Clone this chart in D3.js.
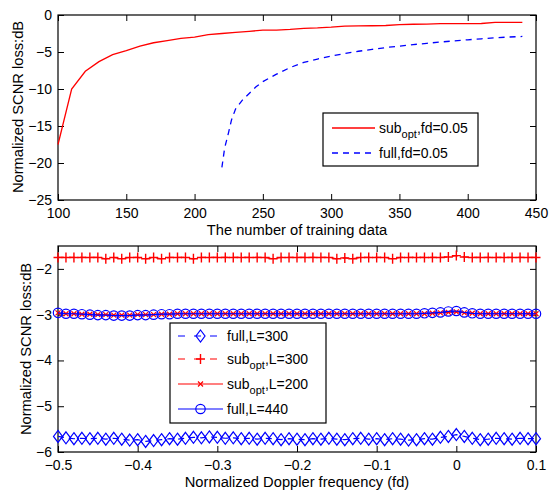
<!DOCTYPE html>
<html lang="en">

<head>
    <meta charset="UTF-8">
    <title>SCNR loss</title>
    <style>
        body {
            margin: 0;
            background: #fff;
        }

        svg {
            font-family: "Liberation Sans", Arial, sans-serif;
        }

        .axis text {
            font-size: 14px;
            fill: #000;
        }

        .axis path,
        .axis line {
            stroke: #000;
        }
    </style>
</head>

<body>
    <svg width="551" height="492"></svg>

    <script src="https://d3js.org/d3.v7.min.js"></script>
    <script>
        // top plot: loss vs number of training data
        const trainN = [100, 110, 120, 130, 140, 150, 160, 170, 180, 190, 200, 210, 220, 230, 240, 250, 260, 270,
            280, 290, 300, 310, 320, 330, 340, 350, 360, 370, 380, 390, 400, 410, 420, 430, 440];
        const subOptFd = [-17.5, -10.0, -7.6, -6.3, -5.35, -4.8, -4.2, -3.75, -3.45, -3.15, -3.0, -2.65, -2.5, -2.35,
            -2.2, -2.05, -2.05, -1.95, -1.8, -1.75, -1.65, -1.5, -1.47, -1.45, -1.42, -1.3, -1.25, -1.22, -1.17, -1.17,
            -1.17, -1.15, -1.0, -1.0, -1.0];
        const fullN = [220, 222, 225, 227, 230, 235, 240, 245, 250, 260, 270, 280, 290, 300, 310, 320, 330, 340, 350,
            360, 370, 380, 390, 400, 410, 420, 430, 440];
        const fullFd = [-20.6, -18.0, -15.8, -14.2, -12.7, -11.5, -10.6, -9.7, -9.0, -8.0, -7.1, -6.4, -5.95, -5.55,
            -5.2, -4.9, -4.65, -4.4, -4.2, -4.0, -3.83, -3.65, -3.5, -3.35, -3.22, -3.07, -2.98, -2.9];
        const topXTicks = [100, 150, 200, 250, 300, 350, 400, 450];
        const topYTicks = [-25, -20, -15, -10, -5, 0];

        // bottom plot: loss vs normalized doppler frequency
        const fd = d3.range(61).map(i => +(-0.5 + i * 0.01).toFixed(2));
        const fullL300 = [-5.66, -5.69, -5.71, -5.70, -5.71, -5.70, -5.72, -5.70, -5.72, -5.74, -5.73, -5.77, -5.75,
            -5.73, -5.71, -5.72, -5.70, -5.68, -5.69, -5.67, -5.68, -5.70, -5.69, -5.71, -5.70, -5.72, -5.70, -5.71,
            -5.73, -5.71, -5.72, -5.73, -5.71, -5.72, -5.70, -5.72, -5.73, -5.71, -5.70, -5.72, -5.71, -5.73, -5.71,
            -5.72, -5.74, -5.73, -5.71, -5.72, -5.68, -5.66, -5.62, -5.66, -5.70, -5.73, -5.72, -5.70, -5.71, -5.72,
            -5.70, -5.71, -5.71];
        const subL300 = [-1.75, -1.75, -1.75, -1.75, -1.75, -1.75, -1.78, -1.75, -1.78, -1.75, -1.75, -1.78, -1.75,
            -1.78, -1.75, -1.75, -1.75, -1.78, -1.75, -1.75, -1.75, -1.75, -1.75, -1.75, -1.75, -1.75, -1.75, -1.78,
            -1.75, -1.75, -1.75, -1.75, -1.75, -1.75, -1.75, -1.78, -1.76, -1.78, -1.75, -1.75, -1.75, -1.75, -1.78,
            -1.75, -1.75, -1.75, -1.75, -1.75, -1.75, -1.74, -1.71, -1.74, -1.75, -1.75, -1.75, -1.75, -1.75, -1.75,
            -1.75, -1.75, -1.75];
        const subL200 = [-2.96, -2.98, -2.98, -2.99, -2.99, -3.00, -3.00, -3.01, -3.01, -3.01, -3.00, -3.00, -3.00,
            -2.99, -2.99, -2.98, -2.98, -2.98, -2.98, -2.98, -2.98, -2.98, -2.98, -2.98, -2.98, -2.98, -2.98, -2.98,
            -2.98, -2.98, -2.98, -2.98, -2.98, -2.98, -2.98, -2.98, -2.98, -2.98, -2.98, -2.98, -2.98, -2.98, -2.98,
            -2.98, -2.98, -2.98, -2.98, -2.97, -2.96, -2.95, -2.94, -2.96, -2.97, -2.98, -2.98, -2.98, -2.98, -2.98,
            -2.98, -2.98, -2.98];
        const fullL440 = [-2.96, -2.98, -2.98, -2.99, -3.00, -3.01, -3.01, -3.02, -3.02, -3.02, -3.01, -3.01, -3.00,
            -2.99, -2.99, -2.98, -2.98, -2.98, -2.98, -2.98, -2.98, -2.98, -2.98, -2.98, -2.98, -2.98, -2.98, -2.98,
            -2.98, -2.98, -2.98, -2.98, -2.98, -2.98, -2.98, -2.98, -2.98, -2.98, -2.98, -2.98, -2.98, -2.98, -2.98,
            -2.98, -2.98, -2.98, -2.97, -2.96, -2.95, -2.93, -2.92, -2.95, -2.97, -2.98, -2.98, -2.98, -2.98, -2.98,
            -2.98, -2.98, -2.98];
        const botXTicks = [-0.5, -0.4, -0.3, -0.2, -0.1, 0, 0.1];
        const botYTicks = [-6, -5, -4, -3, -2];

        const svg = d3.select("svg");
        const tick = 6;
        const labelSize = 14.7;

        // draw a MATLAB-like box with inward ticks on all sides
        function drawFrame(g, x, y, xt, yt, fmtX, fmtY) {
            const [x0, x1] = x.range();
            const [y0, y1] = y.range();
            g.append("g").attr("class", "axis")
                .attr("transform", `translate(0,${y0})`)
                .call(d3.axisBottom(x).tickValues(xt).tickSize(-tick).tickPadding(8).tickFormat(fmtX))
                .call(a => a.select(".domain").remove());
            g.append("g").attr("class", "axis")
                .attr("transform", `translate(0,${y1})`)
                .call(d3.axisTop(x).tickValues(xt).tickSize(-tick).tickFormat(""))
                .call(a => a.select(".domain").remove());
            g.append("g").attr("class", "axis")
                .attr("transform", `translate(${x0},0)`)
                .call(d3.axisLeft(y).tickValues(yt).tickSize(-tick).tickPadding(6).tickFormat(fmtY))
                .call(a => a.select(".domain").remove());
            g.append("g").attr("class", "axis")
                .attr("transform", `translate(${x1},0)`)
                .call(d3.axisRight(y).tickValues(yt).tickSize(-tick).tickFormat(""))
                .call(a => a.select(".domain").remove());
            g.append("rect")
                .attr("x", x0).attr("y", y1)
                .attr("width", x1 - x0).attr("height", y0 - y1)
                .attr("fill", "none").attr("stroke", "#000").attr("stroke-width", 1.2);
        }

        const fmtNum = d => d3.format("")(d).replace("-", "\u2212");

        // ---------- top plot
        const xTop = d3.scaleLinear().domain([100, 450]).range([58, 536]);
        const yTop = d3.scaleLinear().domain([-25, 0]).range([200, 15]);
        const gTop = svg.append("g");
        drawFrame(gTop, xTop, yTop, topXTicks, topYTicks, fmtNum, fmtNum);

        const lineTop = d3.line().x(d => xTop(d[0])).y(d => yTop(d[1]));
        gTop.append("path")
            .datum(d3.zip(trainN, subOptFd))
            .attr("d", lineTop)
            .attr("fill", "none").attr("stroke", "#ff0000").attr("stroke-width", 1.3);
        gTop.append("path")
            .datum(d3.zip(fullN, fullFd))
            .attr("d", lineTop)
            .attr("fill", "none").attr("stroke", "#0000ff").attr("stroke-width", 1.3)
            .attr("stroke-dasharray", "6,5");

        gTop.append("text")
            .attr("x", 297).attr("y", 235)
            .attr("text-anchor", "middle").attr("font-size", labelSize)
            .text("The number of training data");
        gTop.append("text")
            .attr("transform", "translate(23,107) rotate(-90)")
            .attr("text-anchor", "middle").attr("font-size", labelSize)
            .text("Normalized SCNR loss:dB");

        // top legend
        const legTop = gTop.append("g");
        legTop.append("rect")
            .attr("x", 323).attr("y", 113).attr("width", 155).attr("height", 53)
            .attr("fill", "#fff").attr("stroke", "#000").attr("stroke-width", 1.2);
        const topLeg = [
            { color: "#ff0000", dash: null, y: 128, main: "sub", sub: "opt", rest: ",fd=0.05" },
            { color: "#0000ff", dash: "6,5", y: 153, main: "full,fd=0.05", sub: null, rest: "" }
        ];
        topLeg.forEach(e => {
            legTop.append("line")
                .attr("x1", 332).attr("x2", 375).attr("y1", e.y).attr("y2", e.y)
                .attr("stroke", e.color).attr("stroke-width", 1.3)
                .attr("stroke-dasharray", e.dash);
            const t = legTop.append("text").attr("x", 379).attr("y", e.y + 5).attr("font-size", 14);
            t.append("tspan").text(e.main);
            if (e.sub) {
                t.append("tspan").attr("dy", 5).attr("font-size", 11).text(e.sub);
                t.append("tspan").attr("dy", -5).text(e.rest);
            }
        });

        // ---------- bottom plot
        const xBot = d3.scaleLinear().domain([-0.5, 0.1]).range([58, 536]);
        const yBot = d3.scaleLinear().domain([-6, -1.5]).range([452, 246]);
        const gBot = svg.append("g");
        drawFrame(gBot, xBot, yBot, botXTicks, botYTicks, fmtNum, fmtNum);

        const lineBot = d3.line().x(d => xBot(d[0])).y(d => yBot(d[1]));

        const markers = {
            diamond: (g, cx, cy, c) => g.append("path")
                .attr("d", `M${cx},${cy - 6}L${cx + 4.5},${cy}L${cx},${cy + 6}L${cx - 4.5},${cy}Z`)
                .attr("fill", "none").attr("stroke", c).attr("stroke-width", 1.2),
            plus: (g, cx, cy, c) => g.append("path")
                .attr("d", `M${cx - 4.5},${cy}H${cx + 4.5}M${cx},${cy - 5}V${cy + 5}`)
                .attr("stroke", c).attr("stroke-width", 1.4),
            cross: (g, cx, cy, c) => g.append("path")
                .attr("d", `M${cx - 2.5},${cy - 2.5}L${cx + 2.5},${cy + 2.5}M${cx - 2.5},${cy + 2.5}L${cx + 2.5},${cy - 2.5}`)
                .attr("stroke", c).attr("stroke-width", 1.2),
            circle: (g, cx, cy, c) => g.append("circle")
                .attr("cx", cx).attr("cy", cy).attr("r", 4.7)
                .attr("fill", "none").attr("stroke", c).attr("stroke-width", 1.2)
        };

        const botSeries = [
            { vals: fullL300, color: "#0000ff", dash: "6,5", marker: "diamond", label: "full,L=300", sub: null },
            { vals: subL300, color: "#ff0000", dash: "6,5", marker: "plus", label: "sub", sub: "opt", rest: ",L=300" },
            { vals: subL200, color: "#ff0000", dash: null, marker: "cross", label: "sub", sub: "opt", rest: ",L=200" },
            { vals: fullL440, color: "#0000ff", dash: null, marker: "circle", label: "full,L=440", sub: null }
        ];

        botSeries.forEach(s => {
            const pts = d3.zip(fd, s.vals);
            gBot.append("path")
                .datum(pts)
                .attr("d", lineBot)
                .attr("fill", "none").attr("stroke", s.color).attr("stroke-width", 1.2)
                .attr("stroke-dasharray", s.dash);
            const gm = gBot.append("g");
            pts.forEach(p => markers[s.marker](gm, xBot(p[0]), yBot(p[1]), s.color));
        });

        gBot.append("text")
            .attr("x", 297).attr("y", 487)
            .attr("text-anchor", "middle").attr("font-size", labelSize)
            .text("Normalized Doppler frequency (fd)");
        gBot.append("text")
            .attr("transform", "translate(31,349) rotate(-90)")
            .attr("text-anchor", "middle").attr("font-size", labelSize)
            .text("Normalized SCNR loss:dB");

        // bottom legend
        const legBot = gBot.append("g");
        legBot.append("rect")
            .attr("x", 170).attr("y", 323).attr("width", 156).attr("height", 100)
            .attr("fill", "#fff").attr("stroke", "#000").attr("stroke-width", 1.2);
        const legY = [336, 359, 384, 409];
        botSeries.forEach((s, i) => {
            const y = legY[i];
            legBot.append("line")
                .attr("x1", 178).attr("x2", 223).attr("y1", y).attr("y2", y)
                .attr("stroke", s.color).attr("stroke-width", 1.2)
                .attr("stroke-dasharray", s.dash ? "7,9" : null);
            markers[s.marker](legBot, 200.5, y, s.color);
            const t = legBot.append("text").attr("x", 227).attr("y", y + 5).attr("font-size", 14);
            t.append("tspan").text(s.label);
            if (s.sub) {
                t.append("tspan").attr("dy", 5).attr("font-size", 11).text(s.sub);
                t.append("tspan").attr("dy", -5).text(s.rest);
            }
        });
    </script>
</body>

</html>
